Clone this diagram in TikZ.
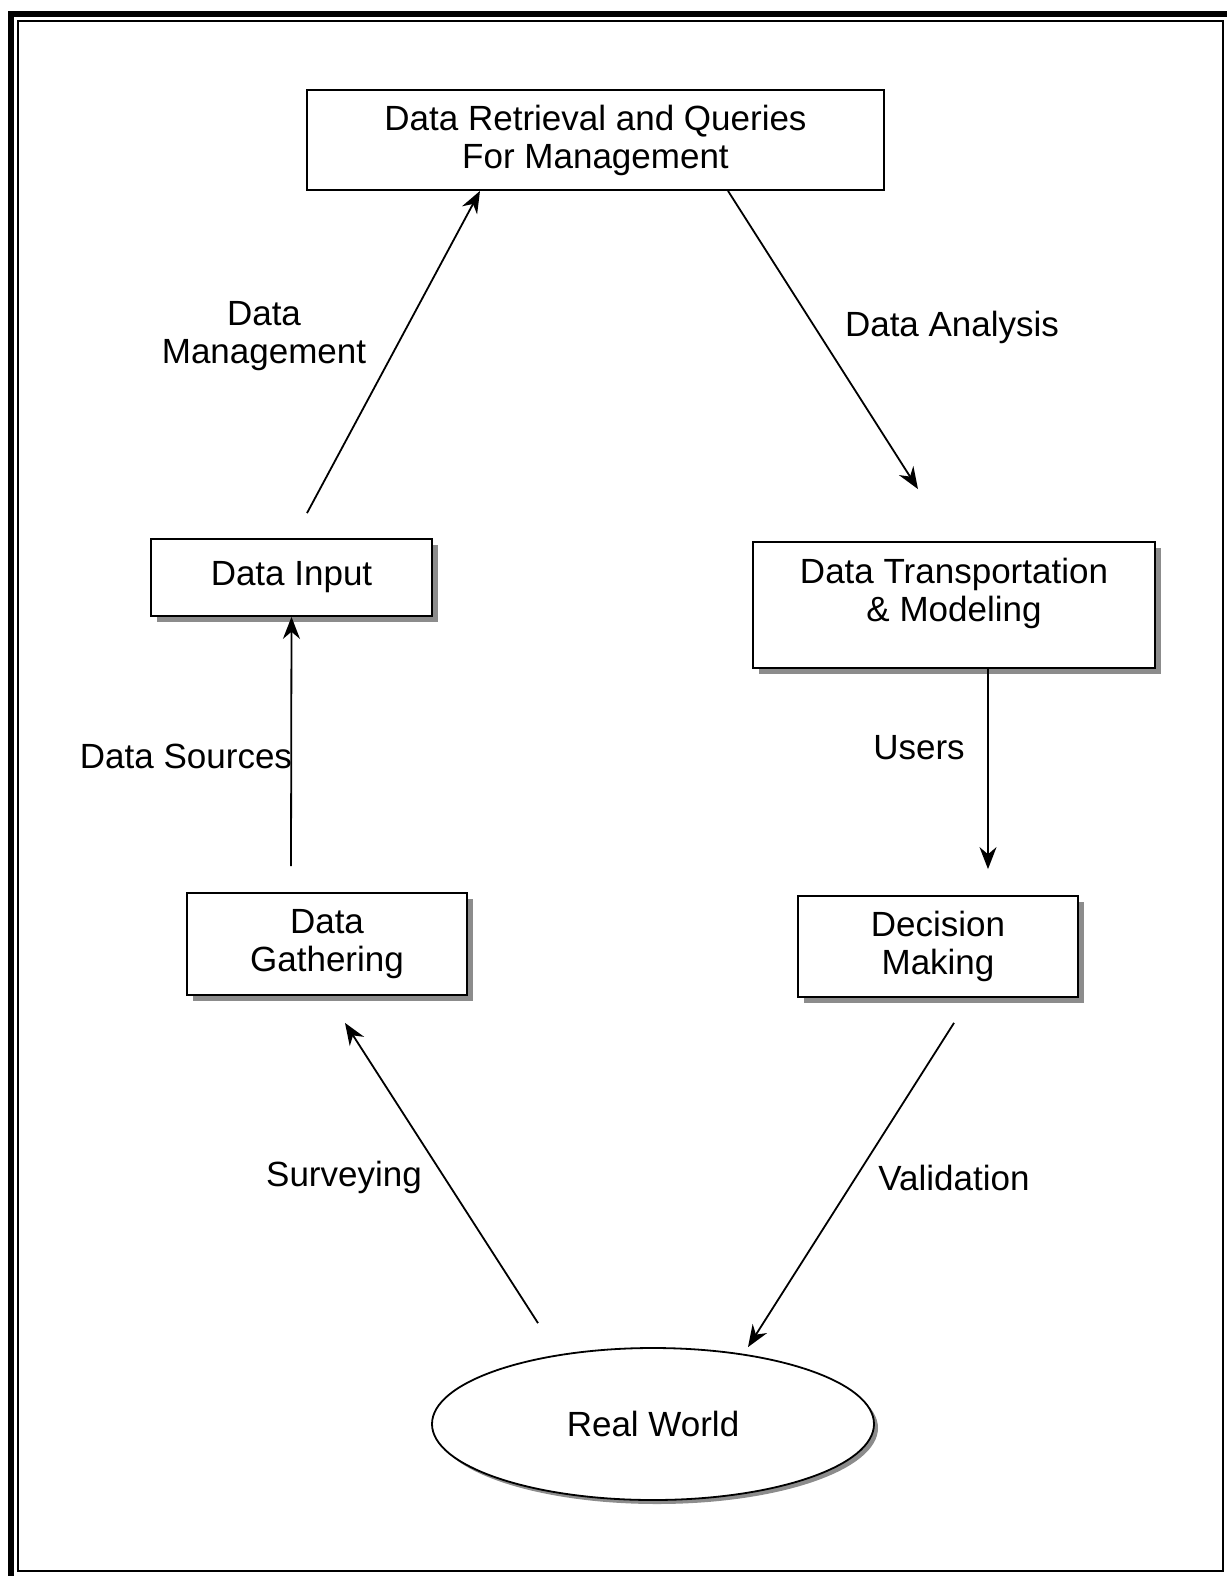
\documentclass[tikz,border=0pt]{standalone}
\usepackage{fontspec}
\setmainfont{Liberation Sans}
\usetikzlibrary{shapes.geometric,shadows,arrows.meta}
\begin{document}
\begin{tikzpicture}[x=1pt,y=-1pt,
  every node/.style={font=\fontsize{35}{38}\selectfont, align=center},
  box/.style={draw, line width=1.8pt, fill=white, inner sep=0pt},
  shbox/.style={box, drop shadow={shadow xshift=6pt, shadow yshift=-6pt, fill=black!45, opacity=1}},
  conn/.style={line width=1.8pt, -{Stealth[length=22pt,width=17pt]}},
  lbl/.style={inner sep=0pt}
]
\useasboundingbox (0,0) rectangle (1227,1576);
% frame
\draw[line width=2pt] (18,21) rectangle (1223,1571);
\draw[line width=6pt] (11,12) -- (11,1576);
\draw[line width=6pt] (8,14) -- (1227,14);

% nodes
\node[box, minimum width=577pt, minimum height=100pt] (top) at (595.5,140) {Data Retrieval and Queries\\For Management};
\node[shbox, minimum width=281pt, minimum height=77pt] (in) at (291.5,577.5) {Data Input};
\node[shbox, minimum width=402pt, minimum height=126pt] (trans) at (954,605) {Data Transportation\\\& Modeling\\[-8pt]};
\node[shbox, minimum width=280pt, minimum height=102pt] (gath) at (327,944) {Data\\Gathering};
\node[shbox, minimum width=280pt, minimum height=101pt] (dec) at (938,946.5) {Decision\\Making};
\node[ellipse, draw, line width=1.8pt, fill=white, minimum width=442pt, minimum height=152pt, inner sep=0pt,
      drop shadow={shadow xshift=4pt, shadow yshift=-4pt, fill=black!45, opacity=1}] (rw) at (653,1424) {Real World};

% connectors
\draw[conn] ([xshift=15.5pt, yshift=25pt]in.north) -- ([xshift=-115.5pt]top.south);
\draw[conn] ([xshift=132.5pt]top.south) -- ([xshift=-36pt, yshift=52pt]trans.north);
\draw[conn] ([xshift=-36pt, yshift=26pt]gath.north) -- (in.south);
\draw[conn] ([xshift=34pt]trans.south) -- ([xshift=50pt, yshift=26pt]dec.north);
\draw[conn] ([xshift=-115pt, yshift=24pt]rw.north) -- ([xshift=18pt, yshift=-27pt]gath.south);
\draw[conn] ([xshift=16pt, yshift=-25pt]dec.south) -- ([xshift=95pt]rw.north);

% labels
\node[lbl] (lm) at (264,336) {Data\\Management};
\node[lbl] (la) at (952,327) {Data Analysis};
\node[lbl] (ls) at (186,756) {Data Sources};
\node[lbl] (lu) at (919,748) {Users};
\node[lbl] (lsv) at (344,1177) {Surveying};
\node[lbl] (lv) at (954,1178) {Validation};
\end{tikzpicture}
\end{document}
